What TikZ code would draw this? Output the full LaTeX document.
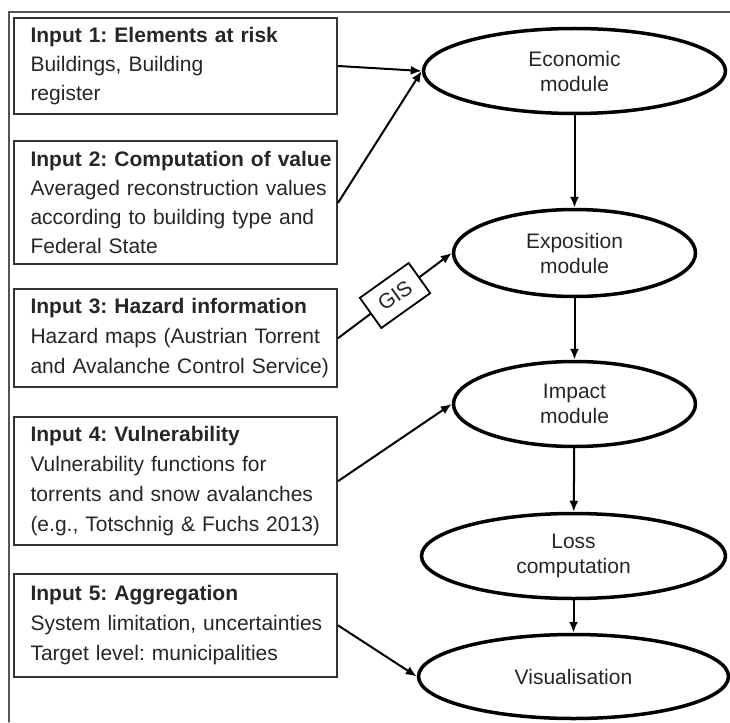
\documentclass[tikz,border=0pt]{standalone}
\usepackage{fontspec}
\setmainfont{Liberation Sans}
\usetikzlibrary{shapes.geometric, arrows.meta, calc}

\begin{document}
\frenchspacing
\begin{tikzpicture}[x=1pt, y=-1pt, font=\fontsize{21}{29}\selectfont, line cap=round,
  inputbox/.style={draw=boxLine, line width=2.5pt, text=inkGrey, text width=290pt,
    minimum width=323pt, align=left, inner xsep=0pt},
  widerows/.style={font=\fontsize{21}{30}\selectfont},
  module/.style={ellipse, draw=black, line width=3.5pt, text=inkGrey, align=center,
    inner sep=0pt, font=\fontsize{21}{25}\selectfont},
  gisbox/.style={draw=black, line width=1.8pt, fill=white, text=inkGrey, rotate=35.5,
    minimum width=60pt, minimum height=37pt, inner sep=0pt},
  flow/.style={draw=black, line width=2pt, -{Latex[length=11pt,width=9pt]}}]
  \definecolor{inkGrey}{HTML}{262626}
  \definecolor{boxLine}{HTML}{333333}
  \definecolor{frameGrey}{HTML}{555555}
  \useasboundingbox (0,0) rectangle (730,722);
  \draw[frameGrey, line width=1.2pt] (730,12) -- (9,12) -- (9,722);

  \node[inputbox, minimum height=96pt] (in1) at (175.5,66)
    {\mbox{\textbf{Input 1: Elements at risk}}\\Buildings, Building\\register};
  \node[inputbox, minimum height=123pt] (in2) at (175.5,202.5)
    {\mbox{\textbf{Input 2: Computation of value}}\\\mbox{Averaged reconstruction values}\\\mbox{according to building type and}\\Federal State};
  \node[inputbox, widerows, minimum height=98pt] (in3) at (175.5,338)
    {\mbox{\textbf{Input 3: Hazard information}}\\\mbox{Hazard maps (Austrian Torrent}\\\mbox{and Avalanche Control Service)}};
  \node[inputbox, widerows, minimum height=128pt] (in4) at (175.5,481)
    {\textbf{Input 4: Vulnerability}\\Vulnerability functions for\\\mbox{torrents and snow avalanches}\\\mbox{(e.g., Totschnig \& Fuchs 2013)}};
  \node[inputbox, widerows, minimum height=103pt] (in5) at (175.5,625.5)
    {\textbf{Input 5: Aggregation}\\\mbox{System limitation, uncertainties}\\\mbox{Target level: municipalities}};

  \node[module, minimum width=302pt, minimum height=85pt] (eco) at (574.5,71) {Economic\\module};
  \node[module, minimum width=242pt, minimum height=87pt] (expo) at (574.5,253) {Exposition\\module};
  \node[module, minimum width=242pt, minimum height=85pt] (impact) at (574.5,404) {Impact\\module};
  \node[module, minimum width=304pt, minimum height=85pt] (loss) at (573.5,556) {Loss\\computation};
  \node[module, minimum width=310pt, minimum height=84pt] (vis) at (573.5,676.5) {Visualisation};

  \node[gisbox] (gis) at ($(in3.east)!0.5!(expo.west)$) {GIS};

  \foreach \from/\to in {in1/eco, in2/eco, in4/impact, in5/vis}
    \draw[flow] (\from.east) -- (\to.west);
  \draw[black, line width=2pt] (in3.east) -- (gis);
  \draw[flow] (gis) -- (expo.west);
  \foreach \from/\to in {eco/expo, expo/impact, impact/loss, loss/vis}
    \draw[flow] (\from) -- (\to);
\end{tikzpicture}
\end{document}
